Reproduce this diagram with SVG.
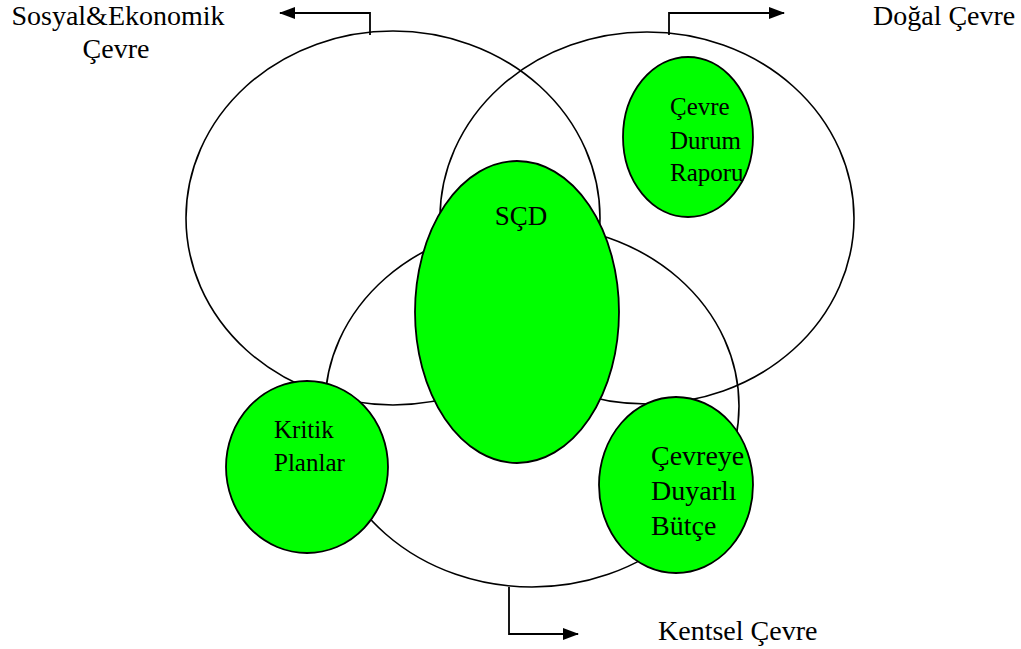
<svg xmlns="http://www.w3.org/2000/svg" width="1021" height="649" viewBox="0 0 1021 649">
<style>
.big{fill:none;stroke:#000;stroke-width:1.6}
.green{fill:#00ff00;stroke:#000;stroke-width:1.8}
.conn{fill:none;stroke:#000;stroke-width:1.8}
</style>
<defs>
<marker id="ah" markerWidth="16" markerHeight="12" refX="15" refY="6" orient="auto" markerUnits="userSpaceOnUse" viewBox="0 0 16 12">
<path d="M0,0 L16,6 L0,12 z" fill="#000"/>
</marker>
</defs>
<rect width="1021" height="649" fill="#fff"/>
<g id="sosyal-ekonomik-cevre">
<ellipse class="big" cx="393" cy="218" rx="207" ry="187"/>
</g>
<g id="dogal-cevre">
<ellipse class="big" cx="647" cy="218" rx="207" ry="186"/>
</g>
<g id="kentsel-cevre">
<ellipse class="big" cx="532" cy="406" rx="207" ry="181"/>
</g>
<g id="connectors">
<polyline class="conn" points="370,35 370,13 280,13" marker-end="url(#ah)"/>
<polyline class="conn" points="669,35 669,13 784,13" marker-end="url(#ah)"/>
<polyline class="conn" points="509,587 509,634 578,634" marker-end="url(#ah)"/>
</g>
<g font-family="Liberation Serif, DejaVu Serif, serif" fill="#000">
<g id="scd">
<ellipse class="green" cx="517" cy="312" rx="102" ry="151"/>
<text x="521" y="225" font-size="27" text-anchor="middle">SÇD</text>
</g>
<g id="cevre-durum-raporu">
<ellipse class="green" cx="688" cy="137" rx="65" ry="80"/>
<text x="670" y="115" font-size="25">Çevre</text>
<text x="670" y="149" font-size="25">Durum</text>
<text x="670" y="181" font-size="25">Raporu</text>
</g>
<g id="kritik-planlar">
<ellipse class="green" cx="307" cy="467" rx="81" ry="86"/>
<text x="274" y="438" font-size="25">Kritik</text>
<text x="274" y="471" font-size="25">Planlar</text>
</g>
<g id="cevreye-duyarli-butce">
<ellipse class="green" cx="676" cy="485" rx="77" ry="88"/>
<text x="651" y="465" font-size="28">Çevreye</text>
<text x="651" y="500" font-size="28">Duyarlı</text>
<text x="651" y="535" font-size="28">Bütçe</text>
</g>
<g id="labels">
<text x="118" y="25" font-size="28" text-anchor="middle">Sosyal&amp;Ekonomik</text>
<text x="116" y="58" font-size="28" text-anchor="middle">Çevre</text>
<text x="873" y="25" font-size="28">Doğal Çevre</text>
<text x="658" y="640" font-size="28">Kentsel Çevre</text>
</g>
</g>
</svg>
